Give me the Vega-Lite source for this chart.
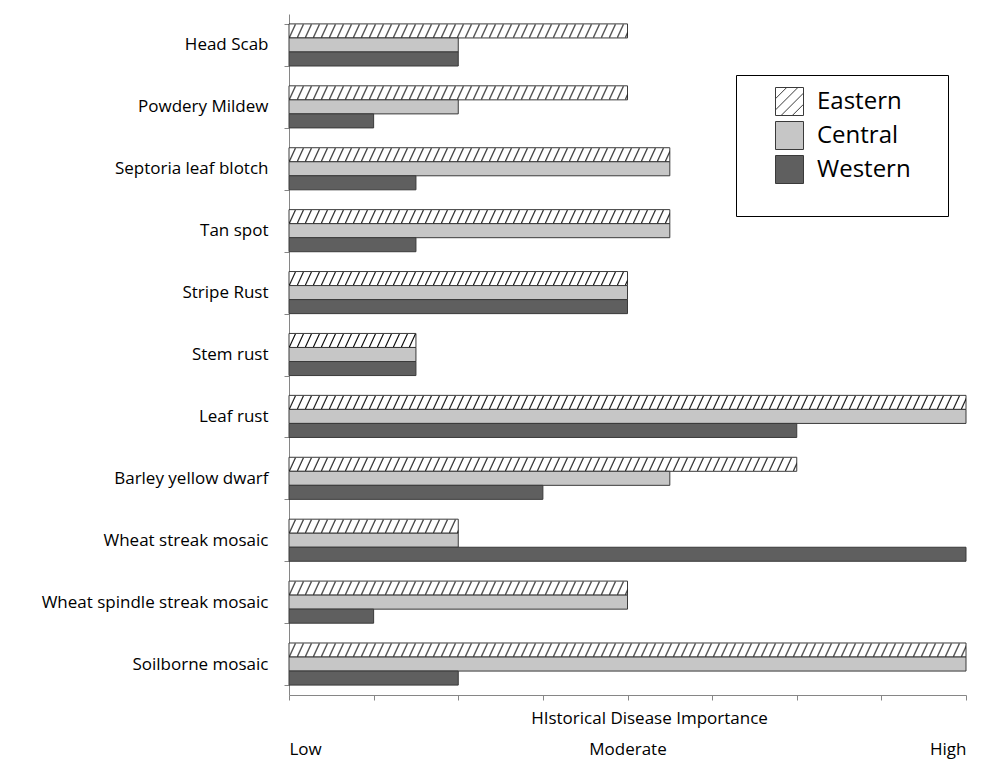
{
  "$schema": "https://vega.github.io/schema/vega-lite/v6.json",
  "width": 677,
  "height": 681,
  "autosize": "none",
  "padding": {"left": 289, "top": 14, "right": 21, "bottom": 64},
  "background": "white",
  "data": {"values": [
    {"disease": "Head Scab", "region": "Eastern", "value": 4},
    {"disease": "Head Scab", "region": "Central", "value": 2},
    {"disease": "Head Scab", "region": "Western", "value": 2},
    {"disease": "Powdery Mildew", "region": "Eastern", "value": 4},
    {"disease": "Powdery Mildew", "region": "Central", "value": 2},
    {"disease": "Powdery Mildew", "region": "Western", "value": 1},
    {"disease": "Septoria leaf blotch", "region": "Eastern", "value": 4.5},
    {"disease": "Septoria leaf blotch", "region": "Central", "value": 4.5},
    {"disease": "Septoria leaf blotch", "region": "Western", "value": 1.5},
    {"disease": "Tan spot", "region": "Eastern", "value": 4.5},
    {"disease": "Tan spot", "region": "Central", "value": 4.5},
    {"disease": "Tan spot", "region": "Western", "value": 1.5},
    {"disease": "Stripe Rust", "region": "Eastern", "value": 4},
    {"disease": "Stripe Rust", "region": "Central", "value": 4},
    {"disease": "Stripe Rust", "region": "Western", "value": 4},
    {"disease": "Stem rust", "region": "Eastern", "value": 1.5},
    {"disease": "Stem rust", "region": "Central", "value": 1.5},
    {"disease": "Stem rust", "region": "Western", "value": 1.5},
    {"disease": "Leaf rust", "region": "Eastern", "value": 8},
    {"disease": "Leaf rust", "region": "Central", "value": 8},
    {"disease": "Leaf rust", "region": "Western", "value": 6},
    {"disease": "Barley yellow dwarf", "region": "Eastern", "value": 6},
    {"disease": "Barley yellow dwarf", "region": "Central", "value": 4.5},
    {"disease": "Barley yellow dwarf", "region": "Western", "value": 3},
    {"disease": "Wheat streak mosaic", "region": "Eastern", "value": 2},
    {"disease": "Wheat streak mosaic", "region": "Central", "value": 2},
    {"disease": "Wheat streak mosaic", "region": "Western", "value": 8},
    {"disease": "Wheat spindle streak mosaic", "region": "Eastern", "value": 4},
    {"disease": "Wheat spindle streak mosaic", "region": "Central", "value": 4},
    {"disease": "Wheat spindle streak mosaic", "region": "Western", "value": 1},
    {"disease": "Soilborne mosaic", "region": "Eastern", "value": 8},
    {"disease": "Soilborne mosaic", "region": "Central", "value": 8},
    {"disease": "Soilborne mosaic", "region": "Western", "value": 2}
  ]},
  "encoding": {
    "y": {
      "field": "disease", "type": "nominal", "sort": null,
      "scale": {"paddingInner": 0.32, "paddingOuter": 0.16},
      "axis": {
        "title": null, "labelFontSize": 17, "labelColor": "#000", "labelPadding": 16,
        "labelLimit": 300, "tickSize": 5, "tickBand": "extent",
        "domainColor": "#868686", "tickColor": "#868686"
      }
    },
    "x": {
      "field": "value", "type": "quantitative",
      "scale": {"domain": [0, 8], "nice": false},
      "axis": {
        "title": "HIstorical Disease Importance",
        "values": [0, 1, 2, 3, 4, 5, 6, 7, 8],
        "labelExpr": "datum.value == 0 ? 'Low' : datum.value == 4 ? 'Moderate' : datum.value == 8 ? 'High' : ''",
        "labelFlush": true, "labelFontSize": 17, "labelColor": "#000", "labelPadding": 41,
        "grid": false, "tickSize": 5, "domainColor": "#868686", "tickColor": "#868686",
        "titleFontSize": 17, "titleFontWeight": "normal", "titleColor": "#000",
        "titleX": 360, "titleY": 15, "titleAlign": "center", "titleBaseline": "top"
      }
    }
  },
  "layer": [
    {
      "mark": {"type": "bar", "stroke": "#3a3a3a", "strokeWidth": 1},
      "encoding": {
        "yOffset": {"field": "region", "type": "nominal", "scale": {"domain": ["Eastern", "Central", "Western"]}},
        "color": {
          "field": "region", "type": "nominal",
          "scale": {"domain": ["Eastern", "Central", "Western"], "range": ["#ffffff", "#c6c6c6", "#5f5f5f"]},
          "legend": {
            "title": " ", "titleOrient": "bottom", "titleFontSize": 16, "titlePadding": 2,
            "orient": "none", "legendX": 447, "legendY": 61,
            "padding": 12, "strokeColor": "#000", "fillColor": "#fff",
            "symbolType": "square", "symbolSize": 784, "symbolOffset": 27,
            "symbolStrokeColor": "#3a3a3a", "symbolStrokeWidth": 1,
            "labelFontSize": 24, "labelColor": "#000", "labelOffset": 13, "rowPadding": 1,
            "labelLimit": 400,
            "labelExpr": "datum.label + '    \u200b'",
            "encoding": {
              "symbols": {
                "shape": {
                  "condition": {"test": "datum.value === 'Eastern'", "value": "M-1,-1H1V1H-1Z M-1,-0.2L-0.2,-1 M-1,0.6L0.6,-1 M-0.6,1L1,-0.6 M0.2,1L1,0.2"},
                  "value": "square"
                }
              }
            }
          }
        }
      }
    },
    {
      "transform": [{"filter": "datum.region === 'Eastern'"}],
      "encoding": {"x": {"datum": 0, "type": "quantitative"}, "x2": {"field": "value"}},
      "layer": [
        {"mark": {"type": "rule", "color": "#111", "strokeWidth": 1, "strokeDash": [1.3, 6.7], "strokeDashOffset": 8, "yOffset": -8}, "encoding": {}},
        {"mark": {"type": "rule", "color": "#111", "strokeWidth": 1, "strokeDash": [1.3, 6.7], "strokeDashOffset": 7.54, "yOffset": -9}, "encoding": {}},
        {"mark": {"type": "rule", "color": "#111", "strokeWidth": 1, "strokeDash": [1.3, 6.7], "strokeDashOffset": 7.08, "yOffset": -10}, "encoding": {}},
        {"mark": {"type": "rule", "color": "#111", "strokeWidth": 1, "strokeDash": [1.3, 6.7], "strokeDashOffset": 6.62, "yOffset": -11}, "encoding": {}},
        {"mark": {"type": "rule", "color": "#111", "strokeWidth": 1, "strokeDash": [1.3, 6.7], "strokeDashOffset": 6.16, "yOffset": -12}, "encoding": {}},
        {"mark": {"type": "rule", "color": "#111", "strokeWidth": 1, "strokeDash": [1.3, 6.7], "strokeDashOffset": 5.7, "yOffset": -13}, "encoding": {}},
        {"mark": {"type": "rule", "color": "#111", "strokeWidth": 1, "strokeDash": [1.3, 6.7], "strokeDashOffset": 5.24, "yOffset": -14}, "encoding": {}},
        {"mark": {"type": "rule", "color": "#111", "strokeWidth": 1, "strokeDash": [1.3, 6.7], "strokeDashOffset": 4.78, "yOffset": -15}, "encoding": {}},
        {"mark": {"type": "rule", "color": "#111", "strokeWidth": 1, "strokeDash": [1.3, 6.7], "strokeDashOffset": 4.32, "yOffset": -16}, "encoding": {}},
        {"mark": {"type": "rule", "color": "#111", "strokeWidth": 1, "strokeDash": [1.3, 6.7], "strokeDashOffset": 3.86, "yOffset": -17}, "encoding": {}},
        {"mark": {"type": "rule", "color": "#111", "strokeWidth": 1, "strokeDash": [1.3, 6.7], "strokeDashOffset": 3.4, "yOffset": -18}, "encoding": {}},
        {"mark": {"type": "rule", "color": "#111", "strokeWidth": 1, "strokeDash": [1.3, 6.7], "strokeDashOffset": 2.94, "yOffset": -19}, "encoding": {}},
        {"mark": {"type": "rule", "color": "#111", "strokeWidth": 1, "strokeDash": [1.3, 6.7], "strokeDashOffset": 2.48, "yOffset": -20}, "encoding": {}}
      ]
    }
  ],
  "config": {
    "font": "Open Sans",
    "view": {"stroke": null}
  }
}
